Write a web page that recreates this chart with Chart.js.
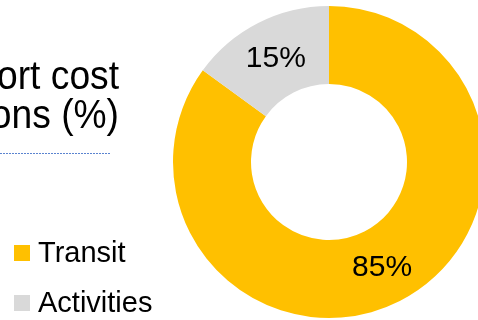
<!DOCTYPE html>
<html>
<head>
<meta charset="utf-8">
<script src="https://cdn.jsdelivr.net/npm/chart.js@4"></script>
<style>
  html, body { margin: 0; padding: 0; background: #fff; overflow: hidden; }
  #wrap { width: 490px; height: 320px; }
</style>
</head>
<body>
<div id="wrap"><canvas id="chart" width="490" height="320"></canvas></div>
<script>
const categories = ["Transit", "Activities"];
const shares = [85, 15];
const colors = ["#FFC000", "#D9D9D9"];
const titleLines = ["Transport cost", "proportions (%)"];

const extras = {
  id: "extras",
  afterDraw(chart) {
    const ctx = chart.ctx;
    ctx.save();

    // title, right aligned so the start runs off the left edge;
    // squeezed a little horizontally
    const sx = 0.93;
    ctx.save();
    ctx.scale(sx, 1);
    ctx.fillStyle = "#000";
    ctx.font = "40px 'Liberation Sans', Arial, sans-serif";
    ctx.textAlign = "right";
    ctx.textBaseline = "alphabetic";
    ctx.fillText(titleLines[0], 119 / sx, 89);
    ctx.fillText(titleLines[1], 119 / sx, 128);
    ctx.restore();

    // dotted rule under the title
    ctx.strokeStyle = "#5B84D0";
    ctx.lineWidth = 1;
    ctx.setLineDash([2, 1]);
    ctx.beginPath();
    ctx.moveTo(0, 153.5);
    ctx.lineTo(110, 153.5);
    ctx.stroke();
    ctx.setLineDash([]);

    // legend
    ctx.textAlign = "left";
    ctx.textBaseline = "alphabetic";
    ctx.font = "29px 'Liberation Sans', Arial, sans-serif";
    categories.forEach((name, i) => {
      const y = 245 + i * 50;
      ctx.fillStyle = colors[i];
      ctx.fillRect(14, y, 16, 16);
      ctx.fillStyle = "#000";
      ctx.fillText(name, 38, y + 17);
    });

    // value labels on the slices
    const meta = chart.getDatasetMeta(0);
    ctx.textAlign = "center";
    ctx.textBaseline = "middle";
    ctx.font = "30px 'Liberation Sans', Arial, sans-serif";
    meta.data.forEach((arc, i) => {
      const p = arc.tooltipPosition();
      ctx.fillText(shares[i] + "%", p.x, p.y + 1);
    });

    ctx.restore();
  }
};

new Chart(document.getElementById("chart"), {
  type: "doughnut",
  data: {
    labels: categories,
    datasets: [{
      data: shares,
      backgroundColor: colors,
      borderWidth: 0
    }]
  },
  options: {
    responsive: false,
    devicePixelRatio: 1,
    animation: false,
    cutout: "50%",
    layout: { padding: { left: 173, right: 5, top: 6, bottom: 2 } },
    plugins: {
      legend: { display: false },
      tooltip: { enabled: false }
    }
  },
  plugins: [extras]
});
</script>
</body>
</html>
